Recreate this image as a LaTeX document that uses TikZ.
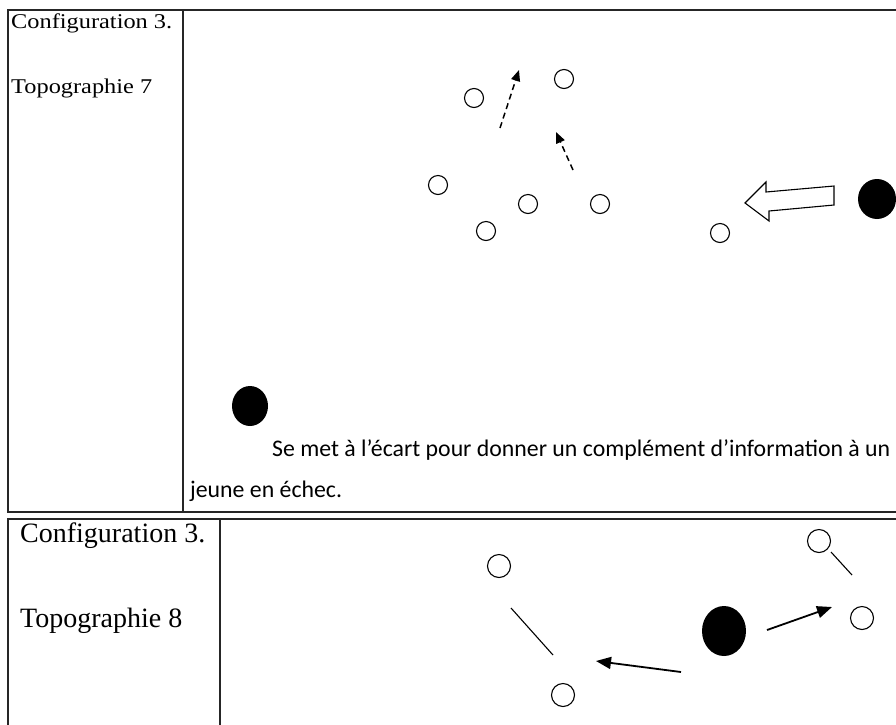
\documentclass[tikz,border=0pt]{standalone}
\usepackage{fontspec}
\setmainfont{Liberation Serif}
\newfontfamily\calibri{Carlito}
\usetikzlibrary{shapes.geometric, arrows.meta}

\begin{document}
\begin{tikzpicture}[x=1pt, y=-1pt,
  frame/.style={line width=1.4pt, black!85},
  player/.style={circle, draw, line width=1.1pt, inner sep=0pt, minimum size=19pt},
  bigplayer/.style={player, minimum size=23pt},
  coach/.style={ellipse, fill=black, inner sep=0pt, minimum width=37pt, minimum height=39pt},
  move/.style={line width=1.5pt, dashed, dash pattern=on 6pt off 4pt,
    -{Triangle[length=11pt, width=9pt]}},
  pass/.style={line width=1.8pt, -{Triangle[length=15pt, width=12pt]}},
  link/.style={line width=1.1pt},
  label/.style={anchor=base west, inner sep=0pt}]

  \useasboundingbox (0,0) rectangle (896,724);
  \clip (0,0) rectangle (896,724);

  % --- Frames ---
  \draw[frame] (905,10) -- (8,10) -- (8,512) -- (905,512);
  \draw[frame] (183,10) -- (183,512);
  \draw[frame] (905,519) -- (8,519) -- (8,730);
  \draw[frame] (220,519) -- (220,730);

  % --- Left column labels ---
  \node[label, font=\fontsize{21}{21}\selectfont] (cfgA) at (11,28)
    {\scalebox{1.16}[1]{Configuration 3.}};
  \node[label, font=\fontsize{21}{21}\selectfont] (topoA) at (11,93)
    {\scalebox{1.16}[1]{Topographie 7}};
  \node[label, font=\fontsize{28}{28}\selectfont] (cfgB) at (20,542) {Configuration 3.};
  \node[label, font=\fontsize{28}{28}\selectfont] (topoB) at (20,627) {Topographie 8};

  % ============================================================
  % TOPOGRAPHIE 7
  % ============================================================

  % players
  \foreach \name/\x/\y in {a1/474/98, a2/564/79, a3/438/185, a4/528/204,
                           a5/600/204, a6/486/231, a7/720/233}{
    \node[player] (\name) at (\x,\y) {};
  }

  % coaches
  \node[coach, minimum width=38pt, minimum height=40pt] (coachA) at (877,199) {};
  \node[coach, minimum width=36pt, minimum height=40pt] (coachB) at (250,406) {};

  % runs (dashed)
  \coordinate (runA1) at (500,128);
  \coordinate (runA2) at (519,70);
  \coordinate (runB1) at (573,170);
  \coordinate (runB2) at (556,132);
  \draw[move] (runA1) -- (runA2);
  \draw[move] (runB1) -- (runB2);

  % coach moves in (hollow block arrow)
  \draw[line width=1.1pt, line join=miter]
    (745,203) -- (766,182) -- (766,192) -- (834,186)
    -- (834,205) -- (769,211) -- (769,221) -- cycle;

  % caption
  \node[label, font=\calibri\fontsize{23.8}{23.8}\selectfont] (capA) at (272,456)
    {Se met à l’écart pour donner un complément d’information à un};
  \node[label, font=\calibri\fontsize{23.8}{23.8}\selectfont] (capB) at (190,497)
    {jeune en échec.};

  % ============================================================
  % TOPOGRAPHIE 8
  % ============================================================

  \foreach \name/\x/\y in {b1/499/566, b2/819/541, b3/862/618, b4/563/695}{
    \node[bigplayer] (\name) at (\x,\y) {};
  }
  \node[coach, minimum width=44pt, minimum height=50pt] (coachC) at (724,631) {};

  % links between players
  \coordinate (lkA1) at (511,608);
  \coordinate (lkA2) at (553,655);
  \coordinate (lkB1) at (831,552);
  \coordinate (lkB2) at (852,575);
  \draw[link] (lkA1) -- (lkA2);
  \draw[link] (lkB1) -- (lkB2);

  % passes from the coach
  \coordinate (psA1) at (681,672);
  \coordinate (psA2) at (596,661);
  \coordinate (psB1) at (767,630);
  \coordinate (psB2) at (832,607);
  \draw[pass] (psA1) -- (psA2);
  \draw[pass] (psB1) -- (psB2);

\end{tikzpicture}
\end{document}
